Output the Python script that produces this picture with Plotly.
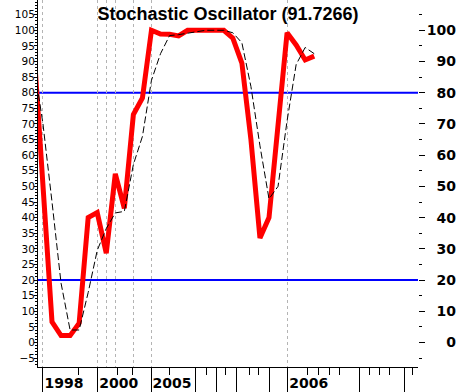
import plotly.graph_objects as go

# ---- data ----
period = list(range(-1, 31))
pct_k = [94, 52, 6.6, 2.2, 2.2, 6.2, 40, 41.6, 28.6, 54, 43, 73, 78.3, 100, 98.8, 98.7,
         98.2, 100, 100, 100, 100, 100, 97.5, 89.5, 65, 33.5, 40, 68, 99.2, 95.3, 90.5, 91.7266]
pct_d = [89, 70, 45, 19, 4, 4, 16, 29.5, 36.5, 41.5, 42, 57, 66, 84, 92.5, 98.3,
         98.6, 99, 99.5, 100, 100, 100, 99.2, 96, 82, 63, 46, 50, 71, 89, 94.5, 92.5]

levels = [80, 20]
grid_periods = [0, 6, 7, 8, 10, 12, 27]
major_ticks = [0, 6.05, 11.95, 16.92, 19.14, 21.35, 25.03, 27.07, 34.99, 39.97]
major_labels = ["1998", "2000", "2005", "", "", "", "", "2006", "", ""]
minor_ticks = [3.95, 8.19, 9.92, 13.94, 18.1, 20.17, 22.82, 23.86, 29.28, 30.5,
               31.67, 32.85, 36.1, 37.2, 38.3, 40.9]
right_ticks = [0, 10, 20, 30, 40, 50, 60, 70, 80, 90, 100]
right_minor = [-5, 5, 15, 25, 35, 45, 55, 65, 75, 85, 95, 105]
title_text = "Stochastic Oscillator (91.7266)"

x_range = [-0.55, 41.48]
y_range = [-7.85, 109.7]

fig = go.Figure()
fig.add_trace(go.Scatter(x=period, y=pct_k, mode="lines",
                         line=dict(color="#ff0000", width=5),
                         xaxis="x", yaxis="y", showlegend=False, hoverinfo="skip"))
fig.add_trace(go.Scatter(x=period, y=pct_d, mode="lines",
                         line=dict(color="#000000", width=1, dash="7px,3px"),
                         xaxis="x2", yaxis="y2", showlegend=False, hoverinfo="skip"))

for lv in levels:
    fig.add_shape(type="line", xref="paper", yref="y", x0=0, x1=1, y0=lv, y1=lv,
                  line=dict(color="#0000ff", width=2), layer="below")

right_text = [str(v).rjust(3, "\u2007") for v in right_ticks]

fig.update_layout(
    width=456, height=392,
    margin=dict(l=38, r=38, t=0, b=25, autoexpand=False),
    paper_bgcolor="white", plot_bgcolor="white",
    title=dict(text=title_text, x=0.5, xref="paper", xanchor="center",
               y=1 - 14 / 392, yref="container", yanchor="middle",
               font=dict(family="Liberation Sans", size=18, color="black", weight="bold")),
    xaxis=dict(range=x_range, tickmode="array", tickvals=grid_periods,
               showgrid=True, gridcolor="#b4b4b4", gridwidth=1, griddash="3px,3px",
               ticks="", showticklabels=False, showline=False, zeroline=False),
    xaxis2=dict(range=x_range, overlaying="x", anchor="y2", side="bottom",
                tickmode="array", tickvals=major_ticks, ticktext=major_labels,
                ticks="outside", ticklen=25, tickwidth=1, tickcolor="black",
                showline=True, linecolor="black", linewidth=1,
                showgrid=False, zeroline=False,
                ticklabelshift=21, ticklabelstandoff=-22,
                tickfont=dict(family="DejaVu Sans", size=14, color="black", weight="bold"),
                minor=dict(tickmode="array", tickvals=minor_ticks, ticks="outside",
                           ticklen=7, tickwidth=1, tickcolor="black", showgrid=False)),
    yaxis=dict(range=y_range, tickmode="linear", tick0=0, dtick=5,
               ticks="outside", ticklen=3, tickwidth=1, tickcolor="black",
               showline=True, linecolor="black", linewidth=1,
               showgrid=False, zeroline=False, ticklabelstandoff=-3,
               tickfont=dict(family="DejaVu Sans", size=10.5, color="black"),
               minor=dict(tickmode="linear", tick0=0, dtick=1, ticks="outside",
                          ticklen=2, tickwidth=1, tickcolor="black", showgrid=False)),
    yaxis2=dict(range=y_range, overlaying="y", anchor="x2", side="right",
                tickmode="array", tickvals=right_ticks, ticktext=right_text,
                ticks="outside", ticklen=6, tickwidth=1, tickcolor="black",
                showline=False, showgrid=False, zeroline=False, ticklabelstandoff=-1,
                tickfont=dict(family="DejaVu Sans", size=14, color="black", weight="bold"),
                minor=dict(tickmode="array", tickvals=right_minor, ticks="outside",
                           ticklen=3, tickwidth=1, tickcolor="black", showgrid=False)),
)

fig.write_html("out.html", config={"displayModeBar": False},
               post_script="document.body.style.margin='0px';")
